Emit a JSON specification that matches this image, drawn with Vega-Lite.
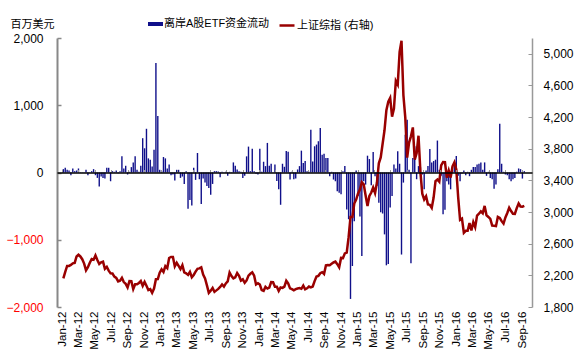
{
"$schema": "https://vega.github.io/schema/vega-lite/v6.json",
"width": 475, "height": 269,
"autosize": {"type": "none"},
"padding": {"left": 57, "top": 38, "right": 52, "bottom": 52},
"background": "white",
"config": {"view": {"stroke": null}, "font": "Liberation Sans", "axis": {"grid": false}},
"data": {"values": [
{"d":"2012-01-06","f":50,"s":2163},{"d":"2012-01-13","f":70,"s":2245},{"d":"2012-01-20","f":40,"s":2319},{"d":"2012-01-27","f":30,"s":2319},
{"d":"2012-02-03","f":-40,"s":2331},{"d":"2012-02-10","f":60,"s":2351},{"d":"2012-02-17","f":20,"s":2357},{"d":"2012-02-24","f":30,"s":2439},
{"d":"2012-03-02","f":60,"s":2460},{"d":"2012-03-09","f":5,"s":2439},{"d":"2012-03-16","f":5,"s":2404},{"d":"2012-03-23","f":-5,"s":2349},{"d":"2012-03-30","f":40,"s":2263},
{"d":"2012-04-06","f":-40,"s":2303},{"d":"2012-04-13","f":5,"s":2359},{"d":"2012-04-20","f":20,"s":2406},{"d":"2012-04-27","f":50,"s":2397},
{"d":"2012-05-04","f":-40,"s":2452},{"d":"2012-05-11","f":-80,"s":2395},{"d":"2012-05-18","f":-210,"s":2344},{"d":"2012-05-25","f":-60,"s":2365},
{"d":"2012-06-01","f":-80,"s":2373},{"d":"2012-06-08","f":-90,"s":2282},{"d":"2012-06-15","f":70,"s":2306},{"d":"2012-06-22","f":70,"s":2260},{"d":"2012-06-29","f":-130,"s":2225},
{"d":"2012-07-06","f":20,"s":2223},{"d":"2012-07-13","f":10,"s":2185},{"d":"2012-07-20","f":30,"s":2168},{"d":"2012-07-27","f":-10,"s":2123},
{"d":"2012-08-03","f":20,"s":2133},{"d":"2012-08-10","f":240,"s":2168},{"d":"2012-08-17","f":60,"s":2115},{"d":"2012-08-24","f":100,"s":2093},{"d":"2012-08-31","f":-30,"s":2047},
{"d":"2012-09-07","f":10,"s":2128},{"d":"2012-09-14","f":80,"s":2127},{"d":"2012-09-21","f":150,"s":2027},{"d":"2012-09-28","f":240,"s":2086},
{"d":"2012-10-05","f":40,"s":2086},{"d":"2012-10-12","f":10,"s":2104},{"d":"2012-10-19","f":100,"s":2128},{"d":"2012-10-26","f":510,"s":2068},
{"d":"2012-11-02","f":360,"s":2117},{"d":"2012-11-09","f":650,"s":2069},{"d":"2012-11-16","f":210,"s":2015},{"d":"2012-11-23","f":190,"s":2026},{"d":"2012-11-30","f":90,"s":1980},
{"d":"2012-12-07","f":340,"s":2033},{"d":"2012-12-14","f":1630,"s":2151},{"d":"2012-12-21","f":840,"s":2153},{"d":"2012-12-28","f":40,"s":2234},
{"d":"2013-01-04","f":20,"s":2276},{"d":"2013-01-11","f":230,"s":2243},{"d":"2013-01-18","f":210,"s":2317},{"d":"2013-01-25","f":60,"s":2292},
{"d":"2013-02-01","f":120,"s":2419},{"d":"2013-02-08","f":-40,"s":2433},{"d":"2013-02-15","f":-30,"s":2433},{"d":"2013-02-22","f":-120,"s":2314},
{"d":"2013-03-01","f":40,"s":2359},{"d":"2013-03-08","f":40,"s":2319},{"d":"2013-03-15","f":-80,"s":2278},{"d":"2013-03-22","f":-60,"s":2328},{"d":"2013-03-29","f":-170,"s":2237},
{"d":"2013-04-05","f":20,"s":2225},{"d":"2013-04-12","f":-540,"s":2206},{"d":"2013-04-19","f":-410,"s":2245},{"d":"2013-04-26","f":-490,"s":2177},
{"d":"2013-05-03","f":70,"s":2205},{"d":"2013-05-10","f":-110,"s":2247},{"d":"2013-05-17","f":290,"s":2283},{"d":"2013-05-24","f":-100,"s":2288},{"d":"2013-05-31","f":-470,"s":2301},
{"d":"2013-06-07","f":-90,"s":2211},{"d":"2013-06-14","f":-150,"s":2162},{"d":"2013-06-21","f":-200,"s":2073},{"d":"2013-06-28","f":-230,"s":1979},
{"d":"2013-07-05","f":-330,"s":2007},{"d":"2013-07-12","f":-170,"s":2040},{"d":"2013-07-19","f":20,"s":1992},{"d":"2013-07-26","f":20,"s":2010},
{"d":"2013-08-02","f":15,"s":2029},{"d":"2013-08-09","f":-70,"s":2053},{"d":"2013-08-16","f":10,"s":2085},{"d":"2013-08-23","f":5,"s":2057},{"d":"2013-08-30","f":10,"s":2098},
{"d":"2013-09-06","f":-50,"s":2124},{"d":"2013-09-13","f":10,"s":2236},{"d":"2013-09-20","f":5,"s":2191},{"d":"2013-09-27","f":150,"s":2161},
{"d":"2013-10-04","f":100,"s":2175},{"d":"2013-10-11","f":45,"s":2229},{"d":"2013-10-18","f":20,"s":2193},{"d":"2013-10-25","f":10,"s":2133},
{"d":"2013-11-01","f":-80,"s":2149},{"d":"2013-11-08","f":-50,"s":2106},{"d":"2013-11-15","f":240,"s":2136},{"d":"2013-11-22","f":385,"s":2197},{"d":"2013-11-29","f":20,"s":2220},
{"d":"2013-12-06","f":355,"s":2238},{"d":"2013-12-13","f":20,"s":2196},{"d":"2013-12-20","f":-20,"s":2085},{"d":"2013-12-27","f":-30,"s":2101},
{"d":"2014-01-03","f":355,"s":2084},{"d":"2014-01-10","f":10,"s":2013},{"d":"2014-01-17","f":160,"s":2004},{"d":"2014-01-24","f":95,"s":2054},{"d":"2014-01-31","f":440,"s":2033},
{"d":"2014-02-07","f":100,"s":2045},{"d":"2014-02-14","f":130,"s":2116},{"d":"2014-02-21","f":5,"s":2113},{"d":"2014-02-28","f":120,"s":2056},
{"d":"2014-03-07","f":-125,"s":2057},{"d":"2014-03-14","f":-250,"s":2004},{"d":"2014-03-21","f":-480,"s":2047},{"d":"2014-03-28","f":130,"s":2042},
{"d":"2014-04-04","f":85,"s":2058},{"d":"2014-04-11","f":320,"s":2131},{"d":"2014-04-18","f":310,"s":2098},{"d":"2014-04-25","f":-105,"s":2036},
{"d":"2014-05-02","f":10,"s":2026},{"d":"2014-05-09","f":-100,"s":2011},{"d":"2014-05-16","f":-90,"s":2026},{"d":"2014-05-23","f":45,"s":2034},{"d":"2014-05-30","f":95,"s":2039},
{"d":"2014-06-06","f":325,"s":2030},{"d":"2014-06-13","f":140,"s":2070},{"d":"2014-06-20","f":170,"s":2024},{"d":"2014-06-27","f":20,"s":2036},
{"d":"2014-07-04","f":10,"s":2059},{"d":"2014-07-11","f":637,"s":2047},{"d":"2014-07-18","f":165,"s":2059},{"d":"2014-07-25","f":390,"s":2127},
{"d":"2014-08-01","f":415,"s":2186},{"d":"2014-08-08","f":465,"s":2194},{"d":"2014-08-15","f":660,"s":2226},{"d":"2014-08-22","f":265,"s":2240},{"d":"2014-08-29","f":280,"s":2217},
{"d":"2014-09-05","f":215,"s":2327},{"d":"2014-09-12","f":215,"s":2331},{"d":"2014-09-19","f":-55,"s":2329},{"d":"2014-09-26","f":10,"s":2347},
{"d":"2014-10-03","f":-105,"s":2364},{"d":"2014-10-10","f":-130,"s":2375},{"d":"2014-10-17","f":-280,"s":2341},{"d":"2014-10-24","f":-300,"s":2302},{"d":"2014-10-31","f":-325,"s":2420},
{"d":"2014-11-07","f":20,"s":2418},{"d":"2014-11-14","f":95,"s":2478},{"d":"2014-11-21","f":-550,"s":2487},{"d":"2014-11-28","f":-695,"s":2683},
{"d":"2014-12-05","f":-1880,"s":2938},{"d":"2014-12-12","f":-1390,"s":2938},{"d":"2014-12-19","f":-725,"s":3108},{"d":"2014-12-26","f":30,"s":3157},
{"d":"2015-01-02","f":-350,"s":3235},{"d":"2015-01-09","f":-655,"s":3285},{"d":"2015-01-16","f":-1240,"s":3376},{"d":"2015-01-23","f":-130,"s":3351},{"d":"2015-01-30","f":-180,"s":3210},
{"d":"2015-02-06","f":250,"s":3076},{"d":"2015-02-13","f":200,"s":3203},{"d":"2015-02-20","f":-190,"s":3247},{"d":"2015-02-27","f":306,"s":3310},
{"d":"2015-03-06","f":-55,"s":3241},{"d":"2015-03-13","f":-200,"s":3373},{"d":"2015-03-20","f":-450,"s":3617},{"d":"2015-03-27","f":-590,"s":3691},
{"d":"2015-04-03","f":-610,"s":3863},{"d":"2015-04-10","f":-920,"s":4034},{"d":"2015-04-17","f":-1380,"s":4287},{"d":"2015-04-24","f":-1360,"s":4394},
{"d":"2015-05-01","f":-520,"s":4442},{"d":"2015-05-08","f":-350,"s":4206},{"d":"2015-05-15","f":120,"s":4308},{"d":"2015-05-22","f":60,"s":4657},{"d":"2015-05-29","f":315,"s":4611},
{"d":"2015-06-05","f":130,"s":5023},{"d":"2015-06-12","f":-1220,"s":5166},{"d":"2015-06-19","f":-150,"s":4478},{"d":"2015-06-26","f":560,"s":4193},
{"d":"2015-07-03","f":785,"s":3687},{"d":"2015-07-10","f":40,"s":3878},{"d":"2015-07-17","f":-1350,"s":3957},{"d":"2015-07-24","f":215,"s":4070},{"d":"2015-07-31","f":390,"s":3664},
{"d":"2015-08-07","f":-100,"s":3744},{"d":"2015-08-14","f":95,"s":3965},{"d":"2015-08-21","f":80,"s":3508},{"d":"2015-08-28","f":-30,"s":3232},
{"d":"2015-09-04","f":-250,"s":3160},{"d":"2015-09-11","f":30,"s":3200},{"d":"2015-09-18","f":95,"s":3097},{"d":"2015-09-25","f":350,"s":3092},
{"d":"2015-10-02","f":150,"s":3053},{"d":"2015-10-09","f":170,"s":3183},{"d":"2015-10-16","f":190,"s":3391},{"d":"2015-10-23","f":475,"s":3412},{"d":"2015-10-30","f":40,"s":3383},
{"d":"2015-11-06","f":-50,"s":3590},{"d":"2015-11-13","f":-620,"s":3632},{"d":"2015-11-20","f":-555,"s":3630},{"d":"2015-11-27","f":-130,"s":3436},
{"d":"2015-12-04","f":-180,"s":3525},{"d":"2015-12-11","f":-250,"s":3435},{"d":"2015-12-18","f":40,"s":3578},{"d":"2015-12-25","f":150,"s":3628},
{"d":"2016-01-01","f":245,"s":3539},{"d":"2016-01-08","f":-50,"s":3186},{"d":"2016-01-15","f":-130,"s":2901},{"d":"2016-01-22","f":-15,"s":2917},{"d":"2016-01-29","f":30,"s":2738},
{"d":"2016-02-05","f":-40,"s":2763},{"d":"2016-02-12","f":10,"s":2763},{"d":"2016-02-19","f":-55,"s":2861},{"d":"2016-02-26","f":40,"s":2767},
{"d":"2016-03-04","f":80,"s":2874},{"d":"2016-03-11","f":80,"s":2810},{"d":"2016-03-18","f":120,"s":2955},{"d":"2016-03-25","f":130,"s":2979},
{"d":"2016-04-01","f":150,"s":3009},{"d":"2016-04-08","f":40,"s":2985},{"d":"2016-04-15","f":150,"s":3078},{"d":"2016-04-22","f":-50,"s":2959},{"d":"2016-04-29","f":10,"s":2938},
{"d":"2016-05-06","f":-80,"s":2913},{"d":"2016-05-13","f":-100,"s":2828},{"d":"2016-05-20","f":-240,"s":2826},{"d":"2016-05-27","f":-180,"s":2822},
{"d":"2016-06-03","f":50,"s":2939},{"d":"2016-06-10","f":725,"s":2927},{"d":"2016-06-17","f":130,"s":2885},{"d":"2016-06-24","f":10,"s":2854},
{"d":"2016-07-01","f":-30,"s":2932},{"d":"2016-07-08","f":-40,"s":2989},{"d":"2016-07-15","f":-100,"s":3054},{"d":"2016-07-22","f":-130,"s":3013},{"d":"2016-07-29","f":-100,"s":2979},
{"d":"2016-08-05","f":-80,"s":2976},{"d":"2016-08-12","f":10,"s":3050},{"d":"2016-08-19","f":60,"s":3108},{"d":"2016-08-26","f":50,"s":3070},
{"d":"2016-09-02","f":-90,"s":3067},{"d":"2016-09-09","f":20,"s":3078}
]},
"layer": [
{
"mark": {"type": "bar", "size": 1.4},
"encoding": {
"x": {"field": "d", "type": "temporal", "scale": {"domain": ["2012-01-01", "2016-09-19"]},
 "axis": {"orient": "bottom", "format": "%b-%y", "tickCount": {"interval": "month", "step": 2}, "labelAngle": -90, "labelFontSize": 11.5, "labelFont": "Liberation Sans", "labelColor": "black", "domain": false, "ticks": false, "labelPadding": 4, "title": null, "labelOverlap": false, "labelFlush": false, "grid": false}},
"y": {"field": "f", "type": "quantitative", "scale": {"domain": [-2000, 2000], "nice": false},
 "axis": {"orient": "left", "values": [-2000, -1000, 0, 1000, 2000], "format": ",.0f", "labelFontSize": 12, "labelFont": "Liberation Sans",
  "labelColor": {"condition": {"test": "datum.value < 0", "value": "#ff0000"}, "value": "black"},
  "domainColor": "#888888", "domainWidth": 2, "tickColor": "#888888", "tickSize": -4, "tickWidth": 1.5, "labelPadding": 18,
  "title": "百万美元", "titleAngle": 0, "titleX": -47, "titleY": -14, "titleAlign": "left", "titleBaseline": "middle",
  "titleFont": "Noto Sans CJK SC", "titleFontSize": 11, "titleFontWeight": "normal", "titleColor": "black", "grid": false}},
"color": {"datum": "离岸A股ETF资金流动", "scale": {"range": ["#10108a"]},
 "legend": {"orient": "none", "legendX": 91, "legendY": -21.5, "title": null, "symbolType": "M-1,-0.27H1V0.27H-1Z", "symbolSize": 225, "symbolStrokeWidth": 0, "symbolOpacity": 1,
  "labelFont": "Liberation Sans, Noto Sans CJK SC", "labelFontSize": 11, "labelColor": "black", "labelOffset": 1, "padding": 0}}
}
},
{
"mark": {"type": "line", "strokeWidth": 2.5},
"encoding": {
"x": {"field": "d", "type": "temporal",
 "axis": {"orient": "top", "offset": -134.5, "labels": false, "domain": true, "domainColor": "black", "domainWidth": 1.5, "ticks": true, "tickColor": "#999999", "tickSize": 3, "tickCount": {"interval": "month", "step": 2}, "title": null, "zindex": 1, "grid": false}},
"y": {"field": "s", "type": "quantitative", "scale": {"domain": [1800, 5200], "nice": false, "zero": false},
 "axis": {"orient": "right", "values": [1800, 2200, 2600, 3000, 3400, 3800, 4200, 4600, 5000], "format": ",.0f", "labelFontSize": 12, "labelFont": "Liberation Sans", "labelColor": "black",
  "domainColor": "#999999", "domainWidth": 1.5, "tickColor": "#999999", "tickSize": -4, "labelPadding": 15, "title": null, "grid": false}},
"stroke": {"datum": "上证综指 (右轴)", "scale": {"range": ["#990000"]},
 "legend": {"orient": "none", "legendX": 221, "legendY": -21.5, "title": null, "symbolType": "stroke", "symbolSize": 225, "symbolStrokeWidth": 2.5,
  "labelFont": "Liberation Sans, Noto Sans CJK SC", "labelFontSize": 11, "labelColor": "black", "labelOffset": 1, "padding": 0}}
}
}
],
"resolve": {"scale": {"y": "independent"}, "axis": {"x": "independent"}}
}
